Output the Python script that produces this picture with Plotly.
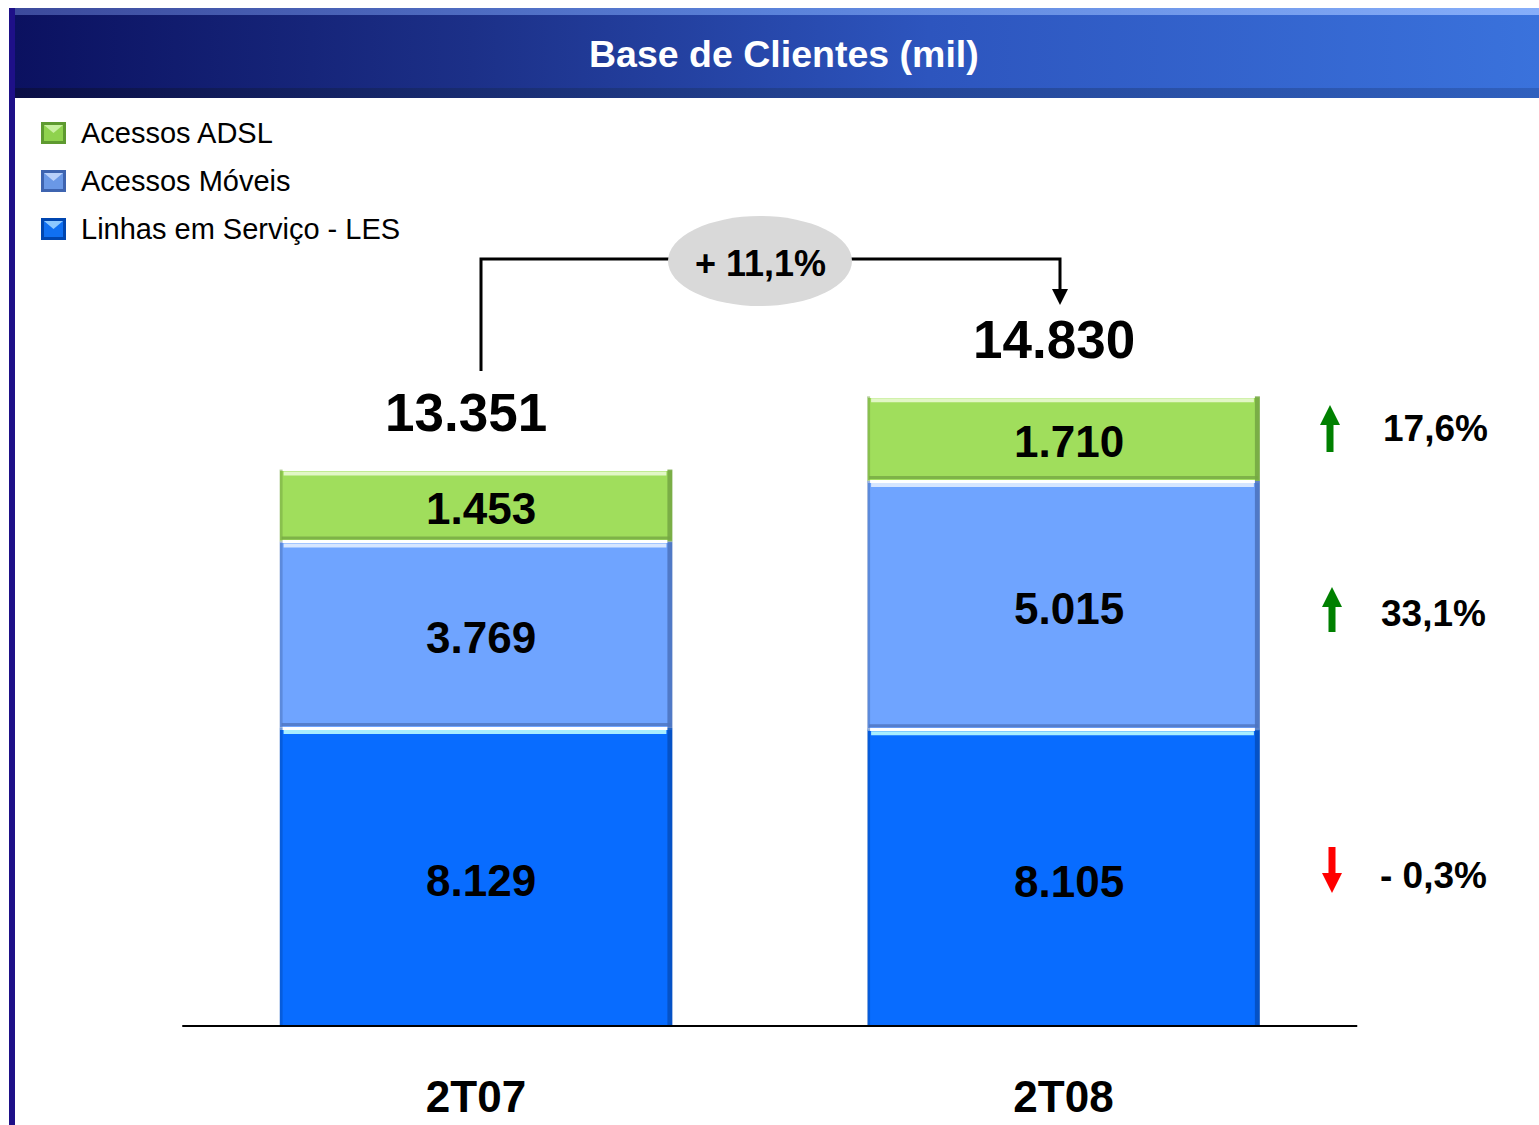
import plotly.graph_objects as go

# ---------------- data ----------------
categories = ["2T07", "2T08"]
les = [8129, 8105]          # Linhas em Serviço - LES
moveis = [3769, 5015]       # Acessos Móveis
adsl = [1453, 1710]         # Acessos ADSL
totals = [13351, 14830]
series_names = ["Linhas em Serviço - LES", "Acessos Móveis", "Acessos ADSL"]
variation_labels = ["17,6%", "33,1%", "- 0,3%"]   # ADSL, Móveis, LES
variation_up = [True, True, False]
total_variation = "+ 11,1%"
title_text = "Base de Clientes (mil)"

# ---------------- styling ----------------
FONT = "Liberation Sans, Arial, sans-serif"
W, H = 1539, 1125
Y_MIN = 2090           # truncated axis start (broken-axis look of original)
PX_PER_UNIT = 0.0495
BASE_PX = 1027
TOP_PX = 100
Y_MAX = Y_MIN + (BASE_PX - TOP_PX) / PX_PER_UNIT
X_PX_PER_UNIT = 587.5
X0_PX = 476
X_RANGE = [-X0_PX / X_PX_PER_UNIT, (W - X0_PX) / X_PX_PER_UNIT]
BAR_W = 0.672

seg_colors = ["#086CFF", "#6FA4FF", "#A0DE5C"]
seg_light = ["#A8EEFF", "#D6E6FF", "#E2F7C6"]
seg_dark = ["#0550C0", "#4D74C0", "#76A844"]

fig = go.Figure()

series = [les, moveis, adsl]
for name, vals, col in zip(series_names, series, seg_colors):
    fig.add_trace(go.Bar(
        x=categories, y=vals, name=name, width=BAR_W,
        marker=dict(color=col, line=dict(color="white", width=3)),
        showlegend=False, hoverinfo="skip",
    ))

shapes = []
annotations = []

# bevel details + segment labels
for i, cat in enumerate(categories):
    base = 0
    for s, vals in enumerate(series):
        top = base + vals[i]
        lo = max(base, Y_MIN)
        xl, xr = i - BAR_W / 2, i + BAR_W / 2
        shapes.append(dict(type="rect", xref="x", yref="y", xsizemode="pixel", xanchor=xl,
                           x0=1, x1=4, y0=lo, y1=top, fillcolor=seg_dark[s], opacity=0.55,
                           line=dict(width=0), layer="above"))
        shapes.append(dict(type="rect", xref="x", yref="y", xsizemode="pixel", xanchor=xr,
                           x0=-6, x1=-1, y0=lo, y1=top, fillcolor=seg_dark[s], opacity=0.9,
                           line=dict(width=0), layer="above"))
        shapes.append(dict(type="rect", xref="x", yref="y", ysizemode="pixel", yanchor=top,
                           x0=xl + 5 / X_PX_PER_UNIT, x1=xr - 7 / X_PX_PER_UNIT, y0=-2, y1=-6,
                           fillcolor=seg_light[s], line=dict(width=0), layer="above"))
        if base >= Y_MIN:
            shapes.append(dict(type="rect", xref="x", yref="y", ysizemode="pixel", yanchor=base,
                               x0=xl + 3 / X_PX_PER_UNIT, x1=xr - 3 / X_PX_PER_UNIT, y0=2, y1=5,
                               fillcolor=seg_dark[s], opacity=0.8, line=dict(width=0), layer="above"))
        annotations.append(dict(
            x=cat, y=(lo + top) / 2, xref="x", yref="y", showarrow=False,
            text=f"{vals[i]:,}".replace(",", "."),
            font=dict(family=FONT, size=44, color="black", weight="bold"),
            xshift=5, yshift=-3,
        ))
        base = top
    annotations.append(dict(
        x=cat, y=totals[i], xref="x", yref="y", showarrow=False,
        text=f"{totals[i]:,}".replace(",", "."),
        font=dict(family=FONT, size=53, color="black", weight="bold"),
        xshift=-10, yshift=57, yanchor="middle",
    ))

# baseline
shapes.append(dict(type="line", xref="x", yref="y", x0=-0.5, x1=1.5, y0=Y_MIN, y1=Y_MIN,
                   line=dict(color="black", width=4), layer="above"))

# ---------------- decorations (pixel overlay axes x2/y2) ----------------
def hdr(y0, y1, cs):
    fig.add_trace(go.Scatter(
        x=[15, W, W, 15, 15], y=[y0, y0, y1, y1, y0], xaxis="x2", yaxis="y2",
        mode="lines", line=dict(width=0), fill="toself",
        fillgradient=dict(type="horizontal", colorscale=cs),
        showlegend=False, hoverinfo="skip",
    ))

hdr(8, 98, [[0, "#0B1160"], [0.3, "#1C3088"], [0.6, "#2D55BE"], [1, "#3A72DC"]])
hdr(8, 15, [[0, "#3C4A9C"], [0.5, "#5A82DA"], [1, "#86AEFA"]])
hdr(88, 98, [[0, "#0A0E45"], [0.5, "#22408E"], [1, "#3060BE"]])

shapes.append(dict(type="rect", xref="x2", yref="y2", x0=9, x1=15, y0=8, y1=H,
                   fillcolor="#1E1088", line=dict(width=0), layer="above"))

annotations.append(dict(x=784, y=54, xref="x2", yref="y2", showarrow=False, text=title_text,
                        font=dict(family=FONT, size=37.5, color="white", weight="bold")))

# manual legend
legend_items = [("Acessos ADSL", "#8FD24E", "#C8F0A0", "#5E9A30", 133),
                ("Acessos Móveis", "#6A98E6", "#B8D0FA", "#3E64B0", 181),
                ("Linhas em Serviço - LES", "#1070F2", "#8CC8FF", "#0046B0", 229)]
for label, c, cl, cd, yc in legend_items:
    shapes.append(dict(type="rect", xref="x2", yref="y2", x0=41, x1=66, y0=yc - 11, y1=yc + 11,
                       fillcolor=cd, line=dict(width=0), layer="above"))
    shapes.append(dict(type="rect", xref="x2", yref="y2", x0=44, x1=63, y0=yc - 8, y1=yc + 8,
                       fillcolor=c, line=dict(width=0), layer="above"))
    shapes.append(dict(type="path", xref="x2", yref="y2",
                       path=f"M44,{yc-8} L63,{yc-8} L53.5,{yc} Z",
                       fillcolor=cl, line=dict(width=0), layer="above"))
    annotations.append(dict(x=79, y=yc, xref="x2", yref="y2", showarrow=False, text=label,
                            xanchor="left", yanchor="middle",
                            font=dict(family=FONT, size=29, color="black")))

# bracket with total variation
shapes.append(dict(type="path", xref="x2", yref="y2",
                   path="M481,371 L481,259 L1060,259 L1060,292",
                   line=dict(color="black", width=3), layer="above"))
shapes.append(dict(type="path", xref="x2", yref="y2",
                   path="M1052,289 L1068,289 L1060,305 Z",
                   fillcolor="black", line=dict(width=0), layer="above"))
shapes.append(dict(type="circle", xref="x2", yref="y2", x0=668, x1=852, y0=216, y1=306,
                   fillcolor="#D9D9D9", line=dict(width=0), layer="above"))
annotations.append(dict(x=760, y=263, xref="x2", yref="y2", showarrow=False, text=total_variation,
                        font=dict(family=FONT, size=36, color="black", weight="bold")))

# right-side variation arrows
arrow_specs = [(1330, 405, 452, 428, 1381), (1332, 587, 632, 613, 1379), (1332, 893, 847, 875, 1378)]
for (ax, tip, tail, ty, tx), lab, up in zip(arrow_specs, variation_labels, variation_up):
    col = "#008000" if up else "#FF0000"
    d = 1 if up else -1
    hb = tip + d * 20
    path = (f"M{ax-10},{hb} L{ax},{tip} L{ax+10},{hb} L{ax+3.5},{hb} L{ax+3.5},{tail} "
            f"L{ax-3.5},{tail} L{ax-3.5},{hb} Z")
    shapes.append(dict(type="path", xref="x2", yref="y2", path=path, fillcolor=col,
                       line=dict(width=0), layer="above"))
    annotations.append(dict(x=tx, y=ty, xref="x2", yref="y2", showarrow=False, text=lab,
                            xanchor="left", yanchor="middle",
                            font=dict(family=FONT, size=37, color="black", weight="bold")))

fig.update_layout(
    width=W, height=H, barmode="stack",
    margin=dict(l=0, r=0, t=0, b=0),
    paper_bgcolor="white", plot_bgcolor="rgba(0,0,0,0)",
    showlegend=False,
    xaxis=dict(domain=[0, 1], range=X_RANGE, showgrid=False, zeroline=False, showline=False,
               ticks="", ticklabelstandoff=40,
               tickfont=dict(family=FONT, size=44, color="black", weight="bold"),
               fixedrange=True),
    yaxis=dict(domain=[(H - BASE_PX) / H, (H - TOP_PX) / H], range=[Y_MIN, Y_MAX],
               visible=False, fixedrange=True),
    xaxis2=dict(domain=[0, 1], range=[0, W], visible=False, anchor="y2", fixedrange=True),
    yaxis2=dict(domain=[0, 1], range=[H, 0], visible=False, anchor="x2", fixedrange=True),
    shapes=shapes, annotations=annotations,
)

fig.write_html(
    "out.html",
    config={"displayModeBar": False},
    post_script="document.body.style.margin='0';document.body.style.overflow='hidden';",
)
